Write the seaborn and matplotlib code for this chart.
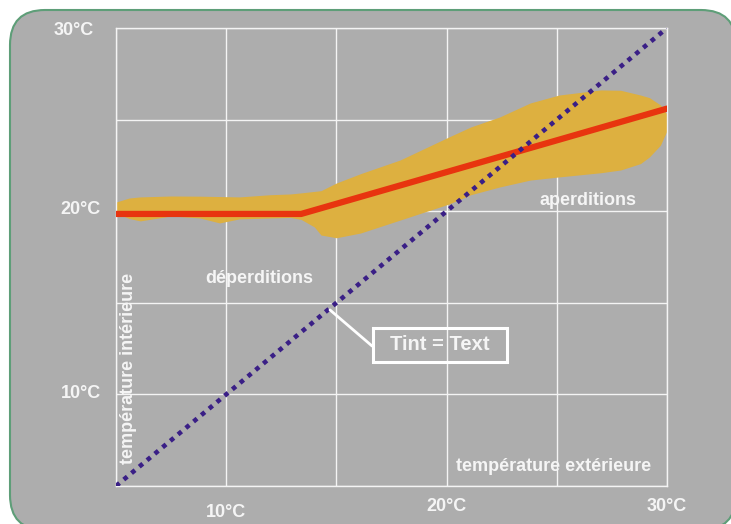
import numpy as np
import pandas as pd
import seaborn as sns
import matplotlib.pyplot as plt
from matplotlib.patches import FancyBboxPatch, Rectangle
from matplotlib.transforms import IdentityTransform

# band (range of indoor temperatures)
band_x = [5.0, 5.6, 6.1, 7.5, 8.8, 9.7, 10.6, 12.0, 12.9, 13.4, 14.0, 14.3, 15.0,
          16.1, 17.9, 20.1, 21.1, 22.4, 23.8, 25.1, 27.0, 27.9, 28.8, 29.2, 29.7, 30.0]
band_hi = [20.5, 20.72, 20.78, 20.83, 20.82, 20.8, 20.78, 20.9, 20.94, 21.0, 21.08, 21.12, 21.54,
           22.05, 22.8, 24.05, 24.6, 25.14, 25.91, 26.34, 26.62, 26.6, 26.34, 26.2, 25.8, 25.3]
band_lo = [19.9, 19.6, 19.47, 19.74, 19.63, 19.36, 19.58, 19.63, 19.66, 19.55, 19.14, 18.7, 18.55,
           18.81, 19.52, 20.39, 20.9, 21.32, 21.7, 21.87, 22.1, 22.25, 22.6, 22.96, 23.6, 24.4]

# mean indoor temperature
tint_x = [5.0, 13.4, 30.0]
tint_y = [19.85, 19.85, 25.6]

# Tint = Text
diag_x = [5, 30]
diag_y = [5, 30]

grid_ticks = [5, 10, 15, 20, 25, 30]
y_labels = {30: "30°C", 20: "20°C", 10: "10°C"}
x_labels = {10: "10°C", 20: "20°C", 30: "30°C"}

grey = "#ADADAD"
sns.set_style("whitegrid", {"axes.facecolor": grey, "grid.color": "#F4F4F4",
                            "axes.edgecolor": "#F4F4F4"})
plt.rcParams["font.family"] = ["Liberation Sans", "DejaVu Sans"]

fig = plt.figure(figsize=(7.31, 5.24), dpi=100)
fig.patch.set_facecolor("white")
box = FancyBboxPatch((10, -6), 726, 520, boxstyle="round,pad=0,rounding_size=35",
                     transform=IdentityTransform(), facecolor=grey,
                     edgecolor="#5E9E78", linewidth=1.5, zorder=0)
fig.add_artist(box)

ax = fig.add_axes([116 / 731, 1 - 486 / 524, 551 / 731, 458 / 524])
ax.patch.set_alpha(0)

ax.fill_between(band_x, band_lo, band_hi, color="#DDB040", linewidth=0, zorder=2)
sns.lineplot(x=tint_x, y=tint_y, ax=ax, color="#E8340F", linewidth=4.5, zorder=3)
sns.lineplot(x=diag_x, y=diag_y, ax=ax, color="#3A1F86", linewidth=3.3,
             linestyle=(0, (1, 1.2)), zorder=4)

ax.set_xlim(5, 30)
ax.set_ylim(5, 30)
ax.set_xticks(grid_ticks)
ax.set_yticks(grid_ticks)
ax.set_xticklabels([])
ax.set_yticklabels([])
ax.tick_params(length=0)
ax.grid(True, linewidth=1)
for s in ax.spines.values():
    s.set_linewidth(1)
    s.set_color("#F4F4F4")

txt = dict(color="#F5F5F5", fontweight="bold", fontsize=13)
for v, lab in y_labels.items():
    dx, dy = (-16, -2) if v == 30 else (-11, 1)
    ax.annotate(lab, xy=(5, v), xytext=(dx, dy), textcoords="offset points",
                ha="right", va="center", annotation_clip=False, **txt)
for v, lab in x_labels.items():
    dy = -19 if v == 10 else -15
    ax.annotate(lab, xy=(v, 5), xytext=(0, dy), textcoords="offset points",
                ha="center", va="center", annotation_clip=False, **txt)

small = dict(color="#F5F5F5", fontweight="bold", fontsize=13)
ax.text(24.87, 6.04, "température extérieure", ha="center", va="center", **small)
ax.text(5.55, 11.44, "température intérieure", ha="center", va="center",
        rotation=90, **small)
ax.text(11.49, 16.35, "déperditions", ha="center", va="center", **small)
ax.text(26.42, 20.61, "aperditions", ha="center", va="center", **small)

ax.plot([14.71, 16.62], [14.61, 12.64], color="white", linewidth=2, zorder=5)
ax.add_patch(Rectangle((16.66, 11.77), 6.08, 1.86, facecolor="none",
                       edgecolor="white", linewidth=2.2, zorder=6))
ax.text(19.7, 12.7, "Tint = Text", ha="center", va="center", color="#F5F5F5",
        fontweight="bold", fontsize=14.5, zorder=6)

fig.savefig("out.png", dpi=100)
